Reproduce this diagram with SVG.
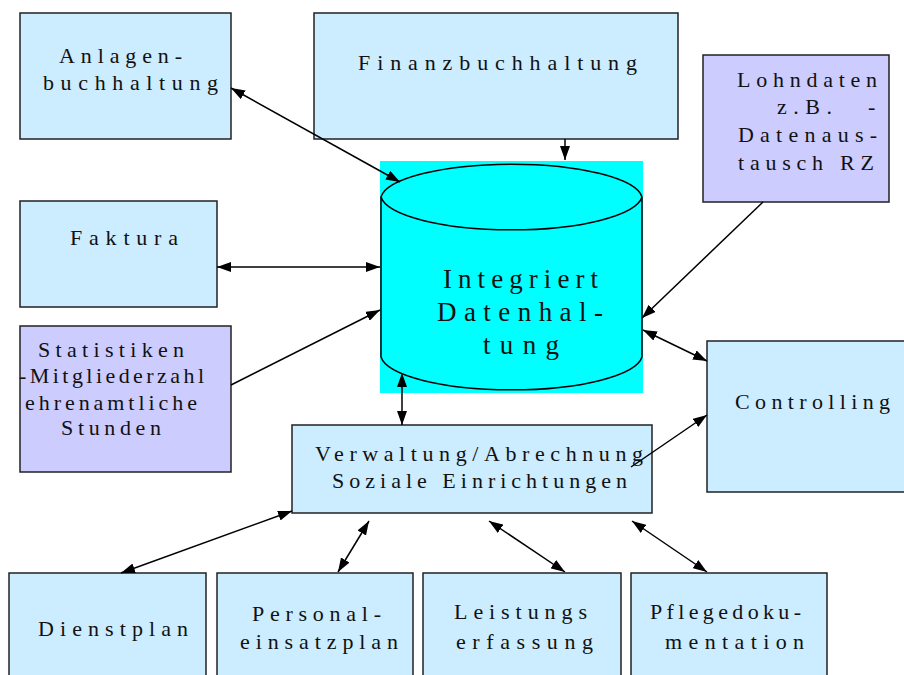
<svg xmlns="http://www.w3.org/2000/svg" width="904" height="675" viewBox="0 0 904 675">
  <style>
    .box { stroke: #222; stroke-width: 1.5; }
    .blue { fill: #CCECFF; }
    .lilac { fill: #CCCCFF; }
    .lbl { font-family: "Liberation Serif", "DejaVu Serif", serif; font-size: 22px; fill: #111; }
    .big { font-size: 27px; }
    .conn { stroke: #000; stroke-width: 1.5; fill: none; }
  </style>
  <defs>
    <marker id="arr" viewBox="0 0 14 10" refX="14" refY="5" markerWidth="14" markerHeight="10" markerUnits="userSpaceOnUse" orient="auto-start-reverse">
      <path d="M0,0 L14,5 L0,10 Z" fill="#000"/>
    </marker>
  </defs>

  <rect width="904" height="675" fill="#fff"/>

  <!-- central database -->
  <g id="datenhaltung">
    <rect x="380" y="161" width="263" height="232" fill="#00FFFF"/>
    <path d="M381,197 A131,36 0 0 1 642,197 L642,357 A131,36 0 0 1 381,357 Z" fill="#00FFFF" stroke="#000" stroke-width="1.5"/>
    <path d="M381,197 A131,36 0 0 0 642,197" fill="none" stroke="#000" stroke-width="1.5"/>
    <text class="lbl big" x="443" y="288" textLength="155" lengthAdjust="spacing">Integriert</text>
    <text class="lbl big" x="437" y="321" textLength="166" lengthAdjust="spacing">Datenhal-</text>
    <text class="lbl big" x="483" y="354" textLength="76" lengthAdjust="spacing">tung</text>
  </g>

  <g id="anlagenbuchhaltung">
    <rect class="box blue" x="20" y="13" width="211" height="126"/>
    <text class="lbl" x="59" y="63" textLength="123" lengthAdjust="spacing">Anlagen-</text>
    <text class="lbl" x="43" y="90" textLength="175" lengthAdjust="spacing">buchhaltung</text>
  </g>

  <g id="finanzbuchhaltung">
    <rect class="box blue" x="314" y="13" width="364" height="126"/>
    <text class="lbl" x="358" y="70" textLength="279" lengthAdjust="spacing">Finanzbuchhaltung</text>
  </g>

  <g id="lohndaten">
    <rect class="box lilac" x="703" y="55" width="186" height="147"/>
    <text class="lbl" x="737" y="87" textLength="140" lengthAdjust="spacing">Lohndaten</text>
    <text class="lbl" x="777" y="114" textLength="55" lengthAdjust="spacing">z.B.</text>
    <text class="lbl" x="868" y="114">-</text>
    <text class="lbl" x="738" y="142" textLength="139" lengthAdjust="spacing">Datenaus-</text>
    <text class="lbl" x="738" y="170" textLength="136" lengthAdjust="spacing">tausch RZ</text>
  </g>

  <g id="faktura">
    <rect class="box blue" x="20" y="201" width="197" height="106"/>
    <text class="lbl" x="70" y="245" textLength="108" lengthAdjust="spacing">Faktura</text>
  </g>

  <g id="statistiken">
    <rect class="box lilac" x="20" y="326" width="211" height="146"/>
    <text class="lbl" x="38" y="357" textLength="146" lengthAdjust="spacing">Statistiken</text>
    <text class="lbl" x="19" y="383" textLength="185" lengthAdjust="spacing">-Mitgliederzahl</text>
    <text class="lbl" x="25" y="410" textLength="172" lengthAdjust="spacing">ehrenamtliche</text>
    <text class="lbl" x="61" y="435" textLength="100" lengthAdjust="spacing">Stunden</text>
  </g>

  <g id="controlling">
    <rect class="box blue" x="707" y="341" width="210" height="151"/>
    <text class="lbl" x="735" y="409" textLength="155" lengthAdjust="spacing">Controlling</text>
  </g>

  <g id="verwaltung">
    <rect class="box blue" x="292" y="425" width="360" height="88"/>
    <text class="lbl" x="315" y="461" textLength="328" lengthAdjust="spacing">Verwaltung/Abrechnung</text>
    <text class="lbl" x="332" y="488" textLength="295" lengthAdjust="spacing">Soziale Einrichtungen</text>
  </g>

  <g id="dienstplan">
    <rect class="box blue" x="9" y="573" width="197" height="120"/>
    <text class="lbl" x="38" y="636" textLength="150" lengthAdjust="spacing">Dienstplan</text>
  </g>

  <g id="personaleinsatzplan">
    <rect class="box blue" x="217" y="573" width="196" height="120"/>
    <text class="lbl" x="252" y="621" textLength="129" lengthAdjust="spacing">Personal-</text>
    <text class="lbl" x="240" y="649" textLength="158" lengthAdjust="spacing">einsatzplan</text>
  </g>

  <g id="leistungserfassung">
    <rect class="box blue" x="423" y="573" width="198" height="120"/>
    <text class="lbl" x="454" y="619" textLength="133" lengthAdjust="spacing">Leistungs</text>
    <text class="lbl" x="456" y="649" textLength="137" lengthAdjust="spacing">erfassung</text>
  </g>

  <g id="pflegedokumentation">
    <rect class="box blue" x="631" y="573" width="196" height="120"/>
    <text class="lbl" x="650" y="619" textLength="151" lengthAdjust="spacing">Pflegedoku-</text>
    <text class="lbl" x="665" y="649" textLength="139" lengthAdjust="spacing">mentation</text>
  </g>

  <!-- connectors -->
  <g id="connectors" class="conn">
    <line x1="231" y1="88" x2="400" y2="182" marker-start="url(#arr)" marker-end="url(#arr)"/>
    <line x1="565" y1="139" x2="565" y2="160" marker-end="url(#arr)"/>
    <line x1="763" y1="202" x2="642" y2="318" marker-end="url(#arr)"/>
    <line x1="217" y1="267" x2="380" y2="267" marker-start="url(#arr)" marker-end="url(#arr)"/>
    <line x1="231" y1="385" x2="380" y2="310" marker-end="url(#arr)"/>
    <line x1="402" y1="373" x2="402" y2="425" marker-start="url(#arr)" marker-end="url(#arr)"/>
    <line x1="643" y1="330" x2="707" y2="361" marker-start="url(#arr)" marker-end="url(#arr)"/>
    <line x1="631" y1="467" x2="707" y2="415" marker-end="url(#arr)"/>
    <line x1="292" y1="511" x2="121" y2="573" marker-start="url(#arr)" marker-end="url(#arr)"/>
    <line x1="369" y1="521" x2="338" y2="572" marker-start="url(#arr)" marker-end="url(#arr)"/>
    <line x1="489" y1="521" x2="565" y2="572" marker-start="url(#arr)" marker-end="url(#arr)"/>
    <line x1="632" y1="521" x2="707" y2="572" marker-start="url(#arr)" marker-end="url(#arr)"/>
  </g>
</svg>
